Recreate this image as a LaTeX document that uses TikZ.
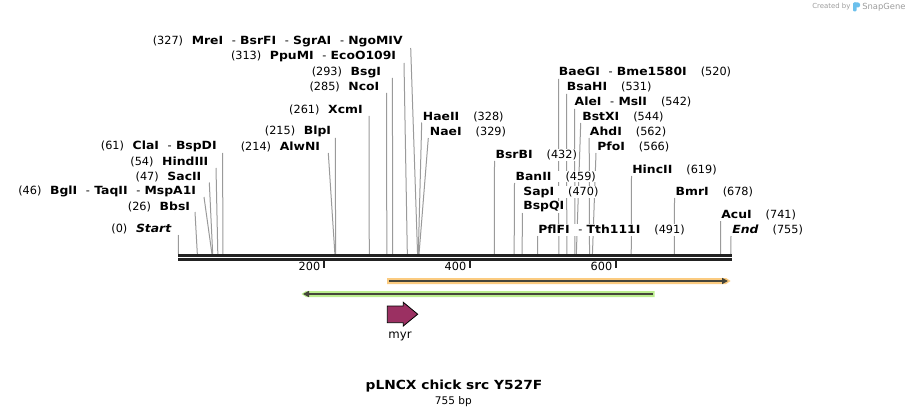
\documentclass[tikz,border=0pt]{standalone}
\usepackage{fontspec}
\setmainfont{DejaVu Sans}[BoldFeatures={FakeStretch=1.1},BoldItalicFeatures={FakeStretch=1.1}]
\usetikzlibrary{arrows.meta}
\definecolor{sitegray}{HTML}{9A9A9A}
\definecolor{orangeband}{HTML}{FBCB80}
\definecolor{greenband}{HTML}{BBEE8E}
\definecolor{featline}{HTML}{45453A}
\definecolor{myrfill}{HTML}{9B3062}
\definecolor{bbcol}{HTML}{222222}
\definecolor{credgray}{HTML}{9C9C9C}
\definecolor{logoblue}{HTML}{6CC0EC}
\newcommand\fnum{\fontsize{8.45pt}{9pt}\selectfont}
\newcommand\gp{\hspace{6.5pt}}
\newcommand\hy{\hspace{6.5pt}-\hspace{3.2pt}}
\newcommand\rgp{\hspace{10.5pt}}
\begin{document}
\begin{tikzpicture}[x=0.75pt,y=-0.75pt,
  cutline/.style={draw=sitegray,line width=0.75pt},
  lbl/.style={font=\fnum,fill=white,inner sep=0.5pt,outer sep=0pt},
  bbline/.style={draw=bbcol,line width=2pt},
  tickmark/.style={draw=bbcol,line width=1.5pt},
  ticklbl/.style={font=\fnum,inner sep=0pt,anchor=east},
  featarrow/.style={draw=featline,line width=1.5pt}]
\useasboundingbox (0,0) rectangle (910,417);

% credit
\node[font=\fontsize{5.2pt}{6pt}\selectfont,text=credgray,anchor=west,inner sep=0pt] (cred) at (812,7) {Created by};
\fill[logoblue,rounded corners=0.8pt] (853,2.5) rectangle (856.5,11.5);
\fill[logoblue,rounded corners=1.5pt] (853,2.5) rectangle (860,7.5);
\node[font=\fontsize{6.3pt}{7pt}\selectfont,text=credgray,anchor=west,inner sep=0pt] (snap) at (862,7) {SnapGene};

% cut-site lines
\foreach \n/\tx/\ty/\bp in {
  MreI/410.7/48/327, PpuMI/404/63/313, BsgI/392.4/78/293, NcoI/386.5/93/285,
  XcmI/369/116/261, BlpI/335.3/138/215, AlwNI/328.3/153/214, ClaI/222.6/153/61,
  HindIII/216/168/54, SacII/209.3/182.5/47, BglI/204/197/46, BbsI/195/212/26,
  Start/178.5/235/0,
  HaeII/421.7/122.5/328, NaeI/428.3/138/329, BaeGI/558.5/79/520, BsaHI/566.5/94/531,
  AleI/574.6/109/542, BstXI/580.7/123/544, AhdI/589.2/138/562, PfoI/596/153/566,
  BsrBI/494.5/161/432, BanII/514.5/183/459, SapI/522.3/213/470, PflFI/537.5/236/491,
  HincII/631.5/176/619, BmrI/674.5/198/678, AcuI/720.5/221/741, End/731/236/755}{
  \coordinate (t\n) at (\tx,\ty);
  \coordinate (s\n) at ({178.3+\bp*0.7317},254);
  \draw[cutline] (t\n) -- (s\n);
}

% left labels
\node[lbl,anchor=east] (LMreI) at (403.3,41.7) {(327)\gp\textbf{MreI}\hy\textbf{BsrFI}\hy\textbf{SgrAI}\hy\textbf{NgoMIV}};
\node[lbl,anchor=east] (LPpuMI) at (396.7,56.7) {(313)\gp\textbf{PpuMI}\hy\textbf{EcoO109I}};
\node[lbl,anchor=east] (LBsgI) at (381.7,72.3) {(293)\gp\textbf{BsgI}};
\node[lbl,anchor=east] (LNcoI) at (380,87.3) {(285)\gp\textbf{NcoI}};
\node[lbl,anchor=east] (LXcmI) at (363.3,110) {(261)\gp\textbf{XcmI}};
\node[lbl,anchor=east] (LBlpI) at (331.7,131.7) {(215)\gp\textbf{BlpI}};
\node[lbl,anchor=east] (LAlwNI) at (320.7,146.7) {(214)\gp\textbf{AlwNI}};
\node[lbl,anchor=east] (LClaI) at (217.3,146.7) {(61)\gp\textbf{ClaI}\hy\textbf{BspDI}};
\node[lbl,anchor=east] (LHindIII) at (209,162.3) {(54)\gp\textbf{HindIII}};
\node[lbl,anchor=east] (LSacII) at (202,176.7) {(47)\gp\textbf{SacII}};
\node[lbl,anchor=east] (LBglI) at (196.7,191.7) {(46)\gp\textbf{BglI}\hy\textbf{TaqII}\hy\textbf{MspA1I}};
\node[lbl,anchor=east] (LBbsI) at (190.7,206.7) {(26)\gp\textbf{BbsI}};
\node[lbl,anchor=east] (LStart) at (172.3,229.3) {(0)\gp\textbf{\itshape Start}};

% right labels
\node[lbl,anchor=west] (RBaeGI) at (558.3,72.3) {\textbf{BaeGI}\hy\textbf{Bme1580I}\rgp(520)};
\node[lbl,anchor=west] (RBsaHI) at (566.3,87.3) {\textbf{BsaHI}\rgp(531)};
\node[lbl,anchor=west] (RAleI) at (574,102.3) {\textbf{AleI}\hy\textbf{MslI}\rgp(542)};
\node[lbl,anchor=west] (RBstXI) at (581.7,117.3) {\textbf{BstXI}\rgp(544)};
\node[lbl,anchor=west] (RAhdI) at (589.3,131.7) {\textbf{AhdI}\rgp(562)};
\node[lbl,anchor=west] (RPfoI) at (596.7,146.7) {\textbf{PfoI}\rgp(566)};
\node[lbl,anchor=west] (RHaeII) at (422.3,117.3) {\textbf{HaeII}\rgp(328)};
\node[lbl,anchor=west] (RNaeI) at (429.3,131.7) {\textbf{NaeI}\rgp(329)};
\node[lbl,anchor=west] (RBsrBI) at (495,155) {\textbf{BsrBI}\rgp(432)};
\node[lbl,anchor=west] (RHincII) at (631.7,170) {\textbf{HincII}\rgp(619)};
\node[lbl,anchor=west] (RBanII) at (515,176.7) {\textbf{BanII}\rgp(459)};
\node[lbl,anchor=west] (RSapI) at (522.7,192.3) {\textbf{SapI}\rgp(470)};
\node[lbl,anchor=west] (RBspQI) at (522.7,206.7) {\textbf{BspQI}};
\node[lbl,anchor=west] (RBmrI) at (675,192.3) {\textbf{BmrI}\rgp(678)};
\node[lbl,anchor=west] (RPflFI) at (537.7,230) {\textbf{PflFI}\hy\textbf{Tth111I}\rgp(491)};
\node[lbl,anchor=west] (RAcuI) at (720.7,215) {\textbf{AcuI}\rgp(741)};
\node[lbl,anchor=west] (REnd) at (731.7,230) {\textbf{\itshape End}\rgp(755)};

% backbone
\coordinate (bbA1) at (178,255.3); \coordinate (bbA2) at (732,255.3);
\coordinate (bbB1) at (178,259.3); \coordinate (bbB2) at (732,259.3);
\draw[bbline] (bbA1) -- (bbA2);
\draw[bbline] (bbB1) -- (bbB2);

% ticks
\foreach \v/\tx in {200/324,400/470,600/616}{
  \coordinate (tk\v a) at (\tx,260.5);
  \coordinate (tk\v b) at (\tx,268);
  \draw[tickmark] (tk\v a) -- (tk\v b);
  \node[ticklbl] (tl\v) at (\tx-3.5,266) {\v};
}

% orange feature (forward)
\fill[orangeband] (387,278) -- (726,278) -- (730.5,281) -- (726,284) -- (387,284) -- cycle;
\coordinate (orA) at (389,281); \coordinate (orB) at (728,281);
\draw[featarrow,-{Triangle[length=4.5pt,width=4.5pt]}] (orA) -- (orB);

% green feature (reverse)
\fill[greenband] (306,291) -- (654.5,291) -- (654.5,297) -- (306,297) -- (301.5,294) -- cycle;
\coordinate (grA) at (652.5,294); \coordinate (grB) at (303,294);
\draw[featarrow,-{Triangle[length=4.5pt,width=4.5pt]}] (grA) -- (grB);

% myr
\draw[fill=myrfill,draw=black,line width=0.6pt] (387.3,306) -- (403.3,306) -- (403.3,302.3) -- (417.7,314.2) -- (403.3,326) -- (403.3,322.7) -- (387.3,322.7) -- cycle;
\node[font=\fontsize{8.8pt}{10pt}\selectfont,inner sep=0pt] (myr) at (400,336) {myr};

% title
\node[font=\fontsize{9.4pt}{11pt}\selectfont\bfseries,inner sep=0pt] (title) at (454,386) {pLNCX chick src Y527F};
\node[font=\fontsize{7.9pt}{9pt}\selectfont,inner sep=0pt] (size) at (453.3,401.5) {755 bp};
\end{tikzpicture}
\end{document}
